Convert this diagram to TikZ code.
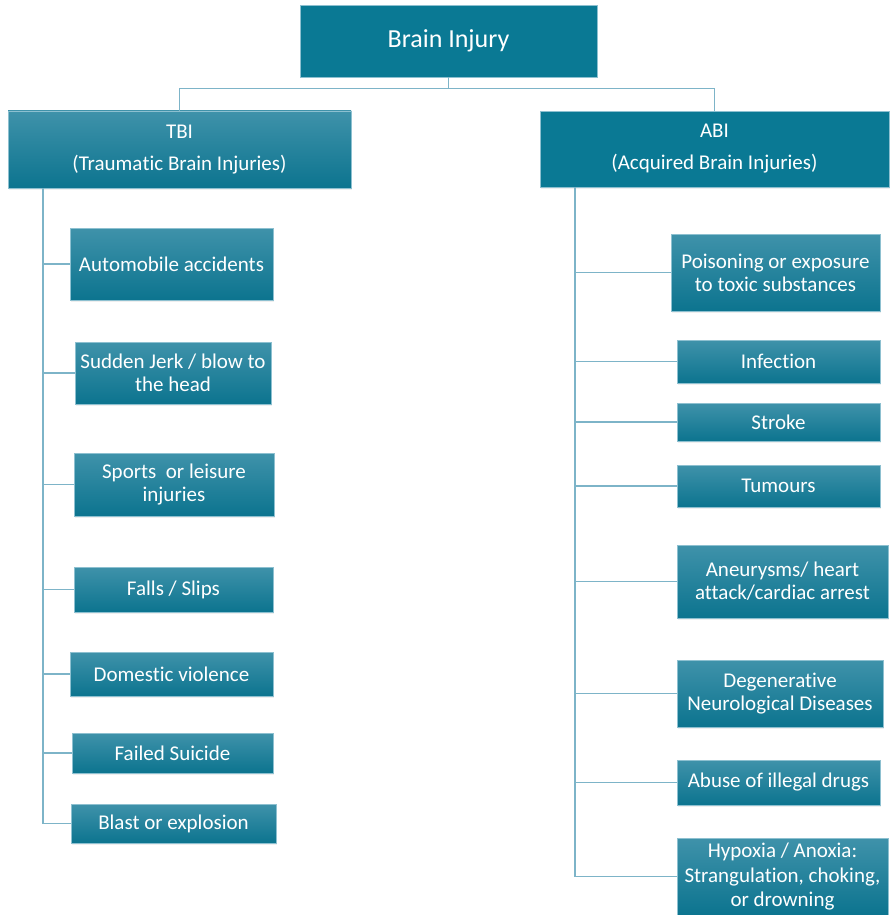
\documentclass[tikz,border=0pt]{standalone}
\usepackage{fontspec}
\setmainfont[Ligatures={NoCommon,NoContextual},Contextuals=NoAlternate]{Carlito}
\usetikzlibrary{shadows}
\definecolor{boxtop}{HTML}{3F92AA}
\definecolor{boxbot}{HTML}{0C748F}
\definecolor{boxsolid}{HTML}{0A7994}
\definecolor{linec}{HTML}{7DB4C8}
\definecolor{edgec}{HTML}{8DC0D0}
\tikzset{
  base/.style={text=white, align=center, inner sep=0pt, draw=edgec, line width=0.6pt,
    font=\fontsize{21}{23}\selectfont,
    drop shadow={opacity=0.12, shadow xshift=1pt, shadow yshift=-1.5pt}},
  gbox/.style={base, top color=boxtop, bottom color=boxbot},
  sbox/.style={base, fill=boxsolid},
  conn/.style={draw=linec, line width=1.5pt},
}
\begin{document}
\begin{tikzpicture}[x=1pt, y=-1pt]
\useasboundingbox[fill=white] (0,0) rectangle (889,915);

\node[sbox, minimum width=297pt, minimum height=72pt, font=\fontsize{26}{28}\selectfont] (top) at (448.5,41) {Brain Injury};

\node[gbox, minimum width=343pt, minimum height=77pt] (tbi) at (179.5,149.5) {TBI\\[9pt](Trauma\kern0pt tic Brain Injuries)};
\node[sbox, minimum width=349pt, minimum height=76pt] (abi) at (714.5,149) {ABI\\[9pt](Acquired Brain Injuries)};

% left column
\node[gbox, minimum width=203pt, minimum height=72pt] (l1) at (171.5,264) {Automobile accidents};
\node[gbox, minimum width=196pt, minimum height=62pt] (l2) at (173,373) {Sudden Jerk / blow to\\the head};
\node[gbox, minimum width=200pt, minimum height=63pt] (l3) at (174,484.5) {Sports~ or leisure\\injuries};
\node[gbox, minimum width=199pt, minimum height=45pt] (l4) at (173.5,589.5) {Falls / Slips};
\node[gbox, minimum width=203pt, minimum height=44pt] (l5) at (171.5,674) {Domestic violence};
\node[gbox, minimum width=201pt, minimum height=40pt] (l6) at (172.5,753) {Failed Suicide};
\node[gbox, minimum width=205pt, minimum height=39pt] (l7) at (173.5,823.5) {Blast or explosion};

% right column
\node[gbox, minimum width=209pt, minimum height=77pt] (r1) at (775.5,272.5) {Poisoning or exposure\\to toxic substances};
\node[gbox, minimum width=203pt, minimum height=43pt] (r2) at (778.5,361.5) {Infection};
\node[gbox, minimum width=203pt, minimum height=38pt] (r3) at (778.5,422) {Stroke};
\node[gbox, minimum width=203pt, minimum height=42pt] (r4) at (778.5,486) {Tumours};
\node[gbox, minimum width=211pt, minimum height=73pt] (r5) at (782.5,581.5) {Aneurysms/ heart\\attack/cardiac arrest};
\node[gbox, minimum width=206pt, minimum height=67pt] (r6) at (780,693.5) {Degenerative\\Neurological Diseases};
\node[gbox, minimum width=203pt, minimum height=45pt] (r7) at (778.5,782.5) {Abuse of illegal drugs};
\node[gbox, minimum width=211pt, minimum height=77pt] (r8) at (782.5,876.5) {Hypoxia / Anoxia:\\[2pt]Strangulation, choking,\\[1pt]or drowning};

\coordinate (ls) at (43,188);
\coordinate (rs) at (575,187);

% top connectors
\draw[conn] (top.south) -- ++(0,11) -| (tbi.north);
\draw[conn] (top.south) -- ++(0,11) -| (abi.north);

% left branches
\foreach \n in {l1,l2,l3,l4,l5,l6,l7}{
  \draw[conn] (ls) |- (\n.west);
}
% right branches
\foreach \n in {r1,r2,r3,r4,r5,r6,r7,r8}{
  \draw[conn] (rs) |- (\n.west);
}
\end{tikzpicture}
\end{document}
